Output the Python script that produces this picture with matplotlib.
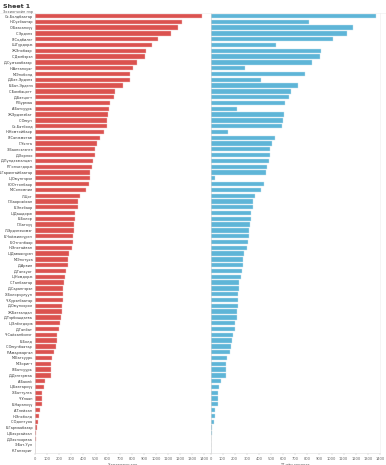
import matplotlib.pyplot as plt
import numpy as np

# Нэрс ба утгууд (зурагнаас ойролцоогоор уншсан)
names = [
    "Сх.Болдбаатар", "Н.Сүхбаатар", "О.Баасанхүү", "С.Эрдэнэ", "Я.Содбилэг",
    "Ш.Гүрдорж", "Ж.Энхбаяр", "С.Дэмбэрэл", "Д.Сумъяабазар", "Н.Алтанхуяг",
    "М.Энхболд", "Д.Бат-Эрдэнэ", "Б.Бат-Эрдэнэ", "С.Бямбацогт", "Д.Батцогт",
    "Р.Бурмаа", "А.Батсуурь", "Ж.Эрдэнэбат", "С.Оюун", "Сх.Батболд",
    "Н.Номтойбаяр", "Я.Санжмятав", "Г.Уянга", "З.Баянсэлэнгэ", "Д.Хорлоо",
    "Д.Лүндээжанцан", "Р.Гончигдорж", "Б.Гарамгайбаатар", "Ц.Оюунгэрэл", "Ю.Отгонбаяр",
    "М.Сономпил", "Л.Цог", "Г.Баярсайхан", "Б.Энхбаяр", "Ц.Дашдорж",
    "Б.Болор", "Г.Батхүү", "Л.Эрдэнэчимэг", "Б.Чойжилсүрэн", "Е.Отгонбаяр",
    "Н.Энхтайван", "Ц.Даваасүрэн", "М.Энхтуяа", "Д.Арвин", "Д.Ганхуяг",
    "Ц.Нямдорж", "С.Ганбаатар", "Д.Сарангэрэл", "Х.Болорчулуун", "Ч.Хүрэлбаатар",
    "Д.Оюунхорол", "Ж.Батзандан", "Д.Тэрбишдагва", "Ц.Элбэгдорж", "Д.Ганбат",
    "Ч.Сайханбилэг", "Б.Болд", "С.Оюунбаатар", "Р.Амаржаргал", "М.Батсуурь",
    "М.Зоригт", "Я.Батсуурь", "Д.Дэлгэрмаа", "А.Бакей", "Ц.Баатархүү",
    "Х.Баттулга", "Ч.Улаан", "Б.Наранхүү", "А.Тлейхан", "Н.Энхболд",
    "С.Одонтуяа", "Б.Гармаабазар", "Ц.Баярсайхан", "Д.Хаянхярваа", "Э.Бат-Үүл",
    "К.Ганзориг",
]
left_vals = [
    1377, 1218, 1179, 1127, 1019, 967, 920, 912, 843, 807,
    785, 782, 727, 664, 650, 620, 614, 606, 598, 595,
    573, 537, 512, 496, 493, 482, 468, 457, 452, 446,
    421, 372, 353, 353, 333, 331, 325, 320, 317, 311,
    309, 278, 273, 270, 259, 251, 237, 231, 229, 229,
    226, 223, 218, 207, 201, 185, 185, 171, 157, 140,
    132, 132, 129, 85, 72, 61, 61, 55, 41, 36,
    28, 14, 11, 6, 0, 0,
]
right_vals = [
    1371, 816, 1173, 1124, 1014, 541, 915, 907, 838, 288,
    783, 415, 725, 662, 648, 615, 220, 604, 596, 593,
    146, 536, 511, 492, 492, 481, 464, 456, 36, 445,
    418, 368, 352, 352, 335, 332, 324, 319, 316, 308,
    305, 277, 269, 266, 258, 250, 236, 234, 228, 228,
    225, 222, 217, 206, 200, 184, 181, 170, 159, 137,
    132, 132, 129, 85, 74, 63, 60, 58, 41, 36,
    27, 14, 11, 5, 0, 0,
]
ticks = list(range(0, 1500, 100))

red = "#DB524F"
blue = "#5EB5D7"
W, H = 386, 465

fig = plt.figure(figsize=(W / 100, H / 100), dpi=100)
fig.patch.set_facecolor("white")

top, bottom = 13, 453.3
ax1 = fig.add_axes([35 / W, 1 - bottom / H, (210.5 - 35) / W, (bottom - top) / H])
ax2 = fig.add_axes([210.5 / W, 1 - bottom / H, (380 - 210.5) / W, (bottom - top) / H])

y = np.arange(len(names))
ax1.barh(y, left_vals, height=0.75, color=red, edgecolor="#f2c4c3", linewidth=0.3)
ax2.barh(y, right_vals, height=0.75, color=blue, edgecolor="#c6e4f0", linewidth=0.3)

for ax, lim in ((ax1, 1450), (ax2, 1400)):
    ax.set_xlim(0, lim)
    ax.set_ylim(75.45, -0.52)
    ax.set_xticks(ticks)
    ax.set_xticklabels([str(t) for t in ticks], fontsize=2.6, color="#666666")
    ax.tick_params(axis="x", length=1.5, width=0.3, pad=1, color="#bbbbbb")
    ax.tick_params(axis="y", length=0)
    for s in ("top", "right"):
        ax.spines[s].set_visible(False)
    ax.spines["bottom"].set_color("#dddddd")
    ax.spines["bottom"].set_linewidth(0.4)
    ax.spines["left"].set_color("#cccccc")
    ax.spines["left"].set_linewidth(0.4)

ax1.set_yticks(y)
ax1.set_yticklabels(names, fontsize=2.5, color="#333333")
ax1.tick_params(axis="y", pad=1.5)
ax2.set_yticks([])
ax2.spines["right"].set_visible(True)
ax2.spines["right"].set_color("#eeeeee")
ax2.spines["right"].set_linewidth(0.4)

ax1.set_xlabel("Хандалтын тоо", fontsize=2.6, color="#555555", labelpad=1)
ax2.set_xlabel("ТТ-ийн хандалт", fontsize=2.6, color="#555555", labelpad=1)

fig.text(3 / W, 1 - 6 / H, "Sheet 1", fontsize=4.5, fontweight="bold",
         color="#333333", va="center", ha="left")
fig.text(33 / W, 1 - 11.5 / H, "Зохиогчийн нэр", fontsize=2.5, color="#555555",
         va="center", ha="right")
fig.add_artist(plt.Line2D([0, 1], [1 - top / H, 1 - top / H], color="#eeeeee",
                          linewidth=0.4))

fig.savefig("out.png", dpi=100)
